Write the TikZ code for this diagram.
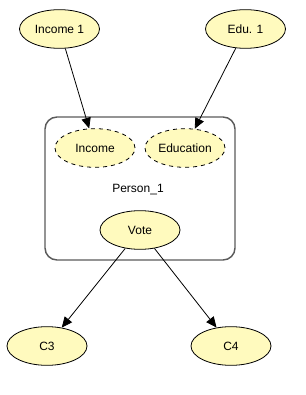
\documentclass[tikz,border=0pt]{standalone}
\usepackage{fontspec}
\setmainfont{Liberation Sans}
\usetikzlibrary{
    arrows.meta,
    shapes.geometric
}
\definecolor{nodefill}{RGB}{255,250,190}
\definecolor{platecol}{RGB}{90,90,90}
\tikzset{
  every path/.style={
    black,
    line width=0.6pt
  },
  every node/.style={
    font=\fontsize{9}{10}\selectfont,
    inner sep=0pt
  },
  var/.style={
    draw,
    ellipse,
    fill=nodefill,
    minimum width=60pt,
    minimum height=29pt
  },
  latent/.style={
    var,
    dashed
  },
  edge/.style={
    -{Triangle[length=8pt,width=7pt]}
  }
}

\begin{document}
\begin{tikzpicture}[x=0.75pt, y=-0.75pt]
    \useasboundingbox (0,0) rectangle (305,395);

    % plate
    \draw[platecol, line width=1.1pt, rounded corners=9pt] (45,117) rectangle (235,260);
    \node (P) at (138,190) {Person\_1};

    % nodes
    \node[var] (I1) at (59.5,29) {Income 1};
    \node[var] (E1) at (245.5,29) {Edu. 1};
    \node[latent] (I) at (95,148) {Income};
    \node[latent] (E) at (185,148) {Education};
    \node[var] (V) at (140,230) {Vote};
    \node[var] (C3) at (47,346) {C3};
    \node[var] (C4) at (231,346) {C4};

    % edges
    \draw[edge] (I1) -- (I);
    \draw[edge] (E1) -- (E);
    \draw[edge] (V) -- (C3);
    \draw[edge] (V) -- (C4);
\end{tikzpicture}
\end{document}
